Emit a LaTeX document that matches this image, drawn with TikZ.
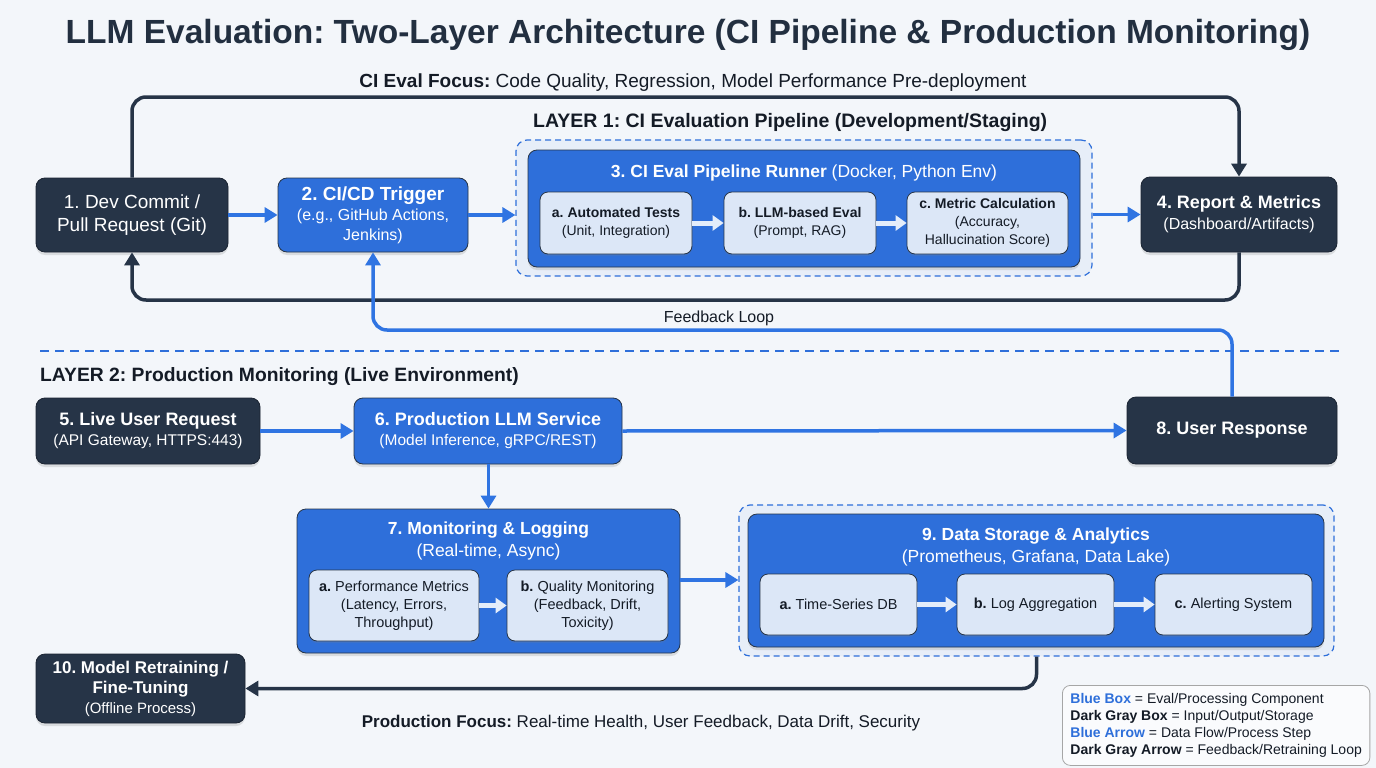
\documentclass[tikz,border=0pt]{standalone}
\usepackage{fontspec}
\setmainfont{Liberation Sans}
\usetikzlibrary{arrows.meta,shadows}
\frenchspacing
\definecolor{bg}{HTML}{F3F6FA}
\definecolor{navy}{HTML}{263447}
\definecolor{bblue}{HTML}{2E6FDA}
\definecolor{ablue}{HTML}{2F74E2}
\definecolor{lightbox}{HTML}{DCE7F7}
\definecolor{subarr}{HTML}{E4EDFA}
\definecolor{txt}{HTML}{141B26}
\definecolor{legblue}{HTML}{2E6FDA}
\tikzset{
  shad/.style={drop shadow={opacity=0.22,shadow xshift=0pt,shadow yshift=-3pt}},
  darkbox/.style={shad,rounded corners=9pt,fill=navy,draw=navy!70!black,line width=0.8pt,text=white,align=center,inner sep=0pt},
  bluebox/.style={shad,rounded corners=9pt,fill=bblue,draw=navy,line width=0.8pt,text=white,align=center,inner sep=0pt},
  subbox/.style={rounded corners=8pt,fill=lightbox,draw=navy,line width=0.8pt,text=txt,align=center,inner sep=0pt,
    drop shadow={opacity=0.18,shadow xshift=0pt,shadow yshift=-2pt}},
  dashbox/.style={rounded corners=11pt,draw=bblue,line width=1.2pt,dash pattern=on 6pt off 4pt,fill=bblue!6!bg,inner sep=0pt},
  barrow/.style={draw=ablue,line width=3.5pt,-{Triangle[length=13pt,width=15pt]}},
  darrow/.style={draw=navy,line width=3.5pt,rounded corners=14pt,-{Triangle[length=13pt,width=15pt]}},
  fbarrow/.style={draw=ablue,line width=3.5pt,rounded corners=14pt,-{Triangle[length=13pt,width=15pt]}},
  subarrow/.style={draw=subarr,line width=5pt,-{Triangle[length=11pt,width=15pt]}},
  plaintext/.style={text=txt,inner sep=0pt},
}
\newcommand\fz[2]{\fontsize{#1}{#2}\selectfont}
\begin{document}
\begin{tikzpicture}[x=1pt,y=-1pt]
\fill[bg] (0,0) rectangle (1376,768);
\useasboundingbox (0,0) rectangle (1376,768);

% title
\node[plaintext,font=\fz{33.5}{40}\bfseries,text=navy!90!black] (title) at (688,35) {LLM Evaluation: Two-Layer Architecture (CI Pipeline \& Production Monitoring)};
\node[plaintext,font=\fz{19}{23}] (cifocus) at (693,82.5) {\textbf{CI Eval Focus:} Code Quality, Regression, Model Performance Pre-deployment};

% layer 1
\node[plaintext,font=\fz{19.5}{23}\bfseries,anchor=west] (l1label) at (533,122.5) {LAYER 1: CI Evaluation Pipeline (Development/Staging)};
\node[dashbox,minimum width=576pt,minimum height=136pt] (dash1) at (804,208) {};
\node[bluebox,minimum width=552pt,minimum height=117pt] (n3) at (804,208.5) {};
\node[plaintext,text=white,font=\fz{17.5}{21}] (n3t) at (804,172.5) {\textbf{3. CI Eval Pipeline Runner} (Docker, Python Env)};
\node[subbox,minimum width=152pt,minimum height=62pt,font=\fz{14}{18}] (n3a) at (616,223) {\textbf{a. Automated Tests}\\(Unit, Integration)};
\node[subbox,minimum width=152pt,minimum height=62pt,font=\fz{14}{18}] (n3b) at (800,223) {\textbf{b. LLM-based Eval}\\(Prompt, RAG)};
\node[subbox,minimum width=161pt,minimum height=62pt,font=\fz{14}{18}] (n3c) at (987.5,223) {\textbf{c. Metric Calculation}\\(Accuracy,\\Hallucination Score)};
\draw[subarrow] (n3a.east) -- (n3b.west);
\draw[subarrow] (n3b.east) -- (n3c.west);

\node[darkbox,minimum width=192pt,minimum height=74pt,font=\fz{19}{23}] (n1) at (132,215) {1. Dev Commit /\\Pull Request (Git)};
\node[bluebox,minimum width=190pt,minimum height=74pt,font=\fz{16}{20}] (n2) at (373,215) {{\fz{19}{20}\bfseries 2. CI/CD Trigger}\\(e.g., GitHub Actions,\\Jenkins)};
\node[darkbox,minimum width=196pt,minimum height=75pt,font=\fz{16}{21}] (n4) at (1239,214.5) {{\fz{18}{21}\bfseries 4. Report \& Metrics}\\(Dashboard/Artifacts)};

\draw[barrow] (n1.east) -- (n2.west);
\draw[barrow] (n2.east) -- (n2.east -| dash1.west);
\draw[barrow] (dash1.east |- n4.west) -- (n4.west);

\draw[darrow] (n1.north) -- (n1.north |- 0,97) -- (n4.north |- 0,97) -- (n4.north);
\draw[darrow] (n4.south) -- (n4.south |- 0,300) -- (n1.south |- 0,300) -- (n1.south);

% separator
\draw[bblue,line width=1.5pt,dash pattern=on 9pt off 6pt] (40,351) -- (1340,351);

% layer 2
\node[plaintext,font=\fz{19.3}{23}\bfseries,anchor=west] (l2label) at (40,376.5) {LAYER 2: Production Monitoring (Live Environment)};
\node[darkbox,minimum width=224pt,minimum height=66pt,font=\fz{15.5}{20}] (n5) at (148,431) {{\fz{18}{20}\bfseries 5. Live User Request}\\(API Gateway, HTTPS:443)};
\node[bluebox,minimum width=268pt,minimum height=66pt,font=\fz{15.5}{20}] (n6) at (488,431) {{\fz{18}{20}\bfseries 6. Production LLM Service}\\(Model Inference, gRPC/REST)};
\node[darkbox,minimum width=210pt,minimum height=67pt,font=\fz{18}{22}\bfseries] (n8) at (1232,430.5) {8. User Response};
\draw[barrow] (n5.east) -- (n6.west);
\draw[barrow] (n6.east) -- (n8.west);

\draw[fbarrow] (n8.north) -- (n8.north |- 0,330) -- (n2.south |- 0,330) -- (n2.south);
\node[plaintext,font=\fz{16}{20}] (fbl) at (719,318.5) {Feedback Loop};

% box 7
\node[bluebox,minimum width=383pt,minimum height=144pt] (n7) at (488.5,581) {};
\node[plaintext,text=white,font=\fz{17.5}{22},align=center] (n7t) at (488.5,540.5) {\textbf{7. Monitoring \& Logging}\\(Real-time, Async)};
\node[subbox,minimum width=170pt,minimum height=71pt,font=\fz{14.5}{18}] (n7a) at (394,605.5) {\textbf{a.} Performance Metrics\\(Latency, Errors,\\Throughput)};
\node[subbox,minimum width=161pt,minimum height=71pt,font=\fz{14.5}{18}] (n7b) at (587.5,605.5) {\textbf{b.} Quality Monitoring\\(Feedback, Drift,\\Toxicity)};
\draw[subarrow] (n7a.east) -- (n7b.west);
\draw[barrow] (n6.south -| n7.north) -- (n7.north);

% box 9
\node[dashbox,minimum width=595pt,minimum height=151pt] (dash9) at (1036.5,580.5) {};
\node[bluebox,minimum width=576pt,minimum height=133pt] (n9) at (1036,580.5) {};
\node[plaintext,text=white,font=\fz{17.5}{22},align=center] (n9t) at (1036,546.5) {\textbf{9. Data Storage \& Analytics}\\(Prometheus, Grafana, Data Lake)};
\node[subbox,minimum width=157pt,minimum height=61pt,font=\fz{14.5}{18}] (n9a) at (838.5,604.5) {\textbf{a.} Time-Series DB};
\node[subbox,minimum width=157pt,minimum height=61pt,font=\fz{14.5}{18}] (n9b) at (1035.5,604.5) {\textbf{b.} Log Aggregation};
\node[subbox,minimum width=157pt,minimum height=61pt,font=\fz{14.5}{18}] (n9c) at (1233.5,604.5) {\textbf{c.} Alerting System};
\draw[subarrow] (n9a.east) -- (n9b.west);
\draw[subarrow] (n9b.east) -- (n9c.west);
\draw[barrow] (n7.east |- 0,580) -- (dash9.west |- 0,580);

% box 10
\node[darkbox,minimum width=209pt,minimum height=69pt,font=\fz{15}{20}] (n10) at (140.5,688.5) {{\fz{17}{22}\bfseries 10. Model Retraining /}\\{\fz{17}{22}\bfseries Fine-Tuning}\\(Offline Process)};
\draw[darrow] (dash9.south) -- (dash9.south |- n10.east) -- (n10.east);

\node[plaintext,font=\fz{17}{21}] (prodfocus) at (641,723) {\textbf{Production Focus:} Real-time Health, User Feedback, Data Drift, Security};

% legend
\node[rounded corners=8pt,draw=gray!70,fill=white!60!bg,line width=0.8pt,align=left,anchor=north west,inner xsep=8pt,inner ysep=6pt,
  text=txt,font=\fz{14}{17},minimum width=307pt,minimum height=80pt] (legend) at (1062,685)
  {\textbf{\color{legblue}Blue Box} = Eval/Processing Component\\
   \textbf{Dark Gray Box} = Input/Output/Storage\\
   \textbf{\color{legblue}Blue Arrow} = Data Flow/Process Step\\
   \textbf{Dark Gray Arrow} = Feedback/Retraining Loop};
\end{tikzpicture}
\end{document}
